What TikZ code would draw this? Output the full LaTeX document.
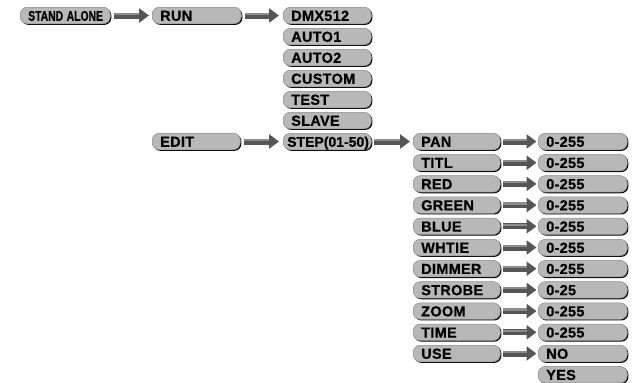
\documentclass[tikz,border=0pt]{standalone}
\usepackage{fontspec}
\setmainfont{Liberation Sans}
\newfontfamily\boxfont{Liberation Sans}[LetterSpace=2, BoldFeatures={FakeBold=0.6}]
\newfontfamily\tightfont{Liberation Sans}[BoldFeatures={FakeBold=0.6}]
\usetikzlibrary{arrows.meta,shadows}
\definecolor{boxgray}{HTML}{B8B8B8}
\definecolor{boxedge}{HTML}{8A8A8A}
\definecolor{arrgray}{HTML}{555555}
\definecolor{arrlight}{HTML}{8C8C8C}
\tikzset{
  pill/.style={rounded corners=7pt, fill=boxgray, draw=boxedge, line width=0.5pt,
    drop shadow={shadow xshift=1.1pt, shadow yshift=-1.1pt, fill=black, opacity=1},
    text width=72pt, inner xsep=8pt, inner ysep=3pt, text height=10.5pt, text depth=0pt,
    align=left, anchor=west, font=\boxfont\bfseries\fontsize{14.5}{14.5}\selectfont},
  bigarrow/.style={draw=arrgray, line width=6pt, -{Triangle[length=10pt,width=14pt]},
    postaction={draw=arrlight, line width=2.2pt, arrows=-, shorten >=10pt,
      transform canvas={yshift=1.6pt}}},
}
\begin{document}
\begin{tikzpicture}[x=1pt,y=-1pt]
\useasboundingbox (0,0) rectangle (633,383);
% column 1
\node[pill, text width=74pt] (stand) at (20,15.5) {\tightfont\bfseries\fontsize{14}{14}\selectfont\scalebox{0.74}[1]{STAND ALONE}};
% column 2
\node[pill, text width=73pt] (run) at (152,15.5) {RUN};
\node[pill] (edit) at (152,141.5) {EDIT};
% column 3
\node[pill] (dmx) at (283,15.5) {DMX512};
\node[pill] (auto1) at (283,36.5) {AUTO1};
\node[pill] (auto2) at (283,57.5) {AUTO2};
\node[pill] (custom) at (283,78.5) {CUSTOM};
\node[pill] (test) at (283,99.5) {TEST};
\node[pill] (slave) at (283,120.5) {SLAVE};
\node[pill, inner xsep=4pt, text width=80pt] (step) at (283,141.5) {\mbox{\tightfont\bfseries\fontsize{14}{14}\selectfont STEP(01-50)}};
% column 4 and 5
\foreach \name/\lab/\val/\k in {pan/PAN/0-255/0, titl/TITL/0-255/1, red/RED/0-255/2,
  green/GREEN/0-255/3, blue/BLUE/0-255/4, whtie/WHTIE/0-255/5, dimmer/DIMMER/0-255/6,
  strobe/STROBE/0-25/7, zoom/ZOOM/0-255/8, time/TIME/0-255/9, use/USE/NO/10} {
  \node[pill, text width=71pt] (\name) at (413,141.5+21.2*\k) {\lab};
  \node[pill, text width=73pt] (v\name) at (538,141.5+21.2*\k) {\val};
  \draw[bigarrow] ([xshift=2.5pt]\name.east) -- ([xshift=-1.5pt]v\name.west);
}
\node[pill, text width=73pt] (yes) at (538,141.5+21.2*11) {YES};
% arrows
\draw[bigarrow] ([xshift=3pt]stand.east) -- ([xshift=-3pt]run.west);
\draw[bigarrow] ([xshift=3pt]run.east) -- ([xshift=-4pt]dmx.west);
\draw[bigarrow] ([xshift=3pt]edit.east) -- ([xshift=-4pt]step.west);
\draw[bigarrow] ([xshift=2.5pt]step.east) -- ([xshift=-3pt]pan.west);
\end{tikzpicture}
\end{document}
